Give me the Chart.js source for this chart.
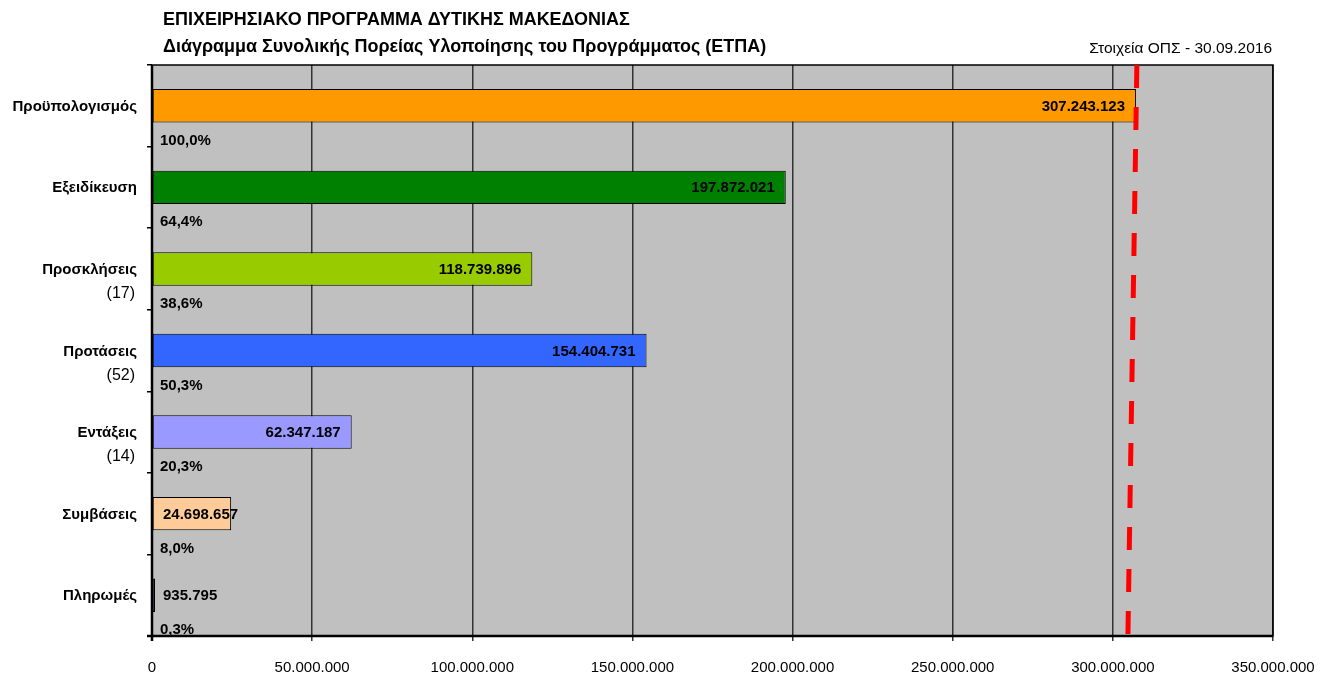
<!DOCTYPE html>
<html>
<head>
<meta charset="utf-8">
<script src="https://cdn.jsdelivr.net/npm/chart.js@4/dist/chart.umd.min.js"></script>
<style>
  html, body { margin: 0; padding: 0; background: #fff; }
  #wrap { position: relative; width: 1329px; height: 678px; }
</style>
</head>
<body>
<div id="wrap"><canvas id="chart" width="1329" height="678"></canvas></div>
<script>
const categories = ['Προϋπολογισμός', 'Εξειδίκευση', 'Προσκλήσεις', 'Προτάσεις', 'Εντάξεις', 'Συμβάσεις', 'Πληρωμές']
const counts = ['', '', '(17)', '(52)', '(14)', '', '']
const values = [307243123, 197872021, 118739896, 154404731, 62347187, 24698657, 935795]
const percents = ['100,0%', '64,4%', '38,6%', '50,3%', '20,3%', '8,0%', '0,3%']
const barColors = ['#FF9900', '#008000', '#99CC00', '#3366FF', '#9999FF', '#FFCC99', '#7070D8']
// red dashed reference line, value at top and at bottom of the plot
const budgetLine = [307500000, 304700000]
const xMax = 350000000
const xStep = 50000000

const titleLines = ['ΕΠΙΧΕΙΡΗΣΙΑΚΟ ΠΡΟΓΡΑΜΜΑ ΔΥΤΙΚΗΣ ΜΑΚΕΔΟΝΙΑΣ', 'Διάγραμμα Συνολικής Πορείας Υλοποίησης του Προγράμματος (ΕΤΠΑ)']
const sourceNote = 'Στοιχεία ΟΠΣ - 30.09.2016'

const FONT = '"Liberation Sans", Arial, sans-serif'

function fmt(n) {
    return String(Math.round(n)).replace(/\B(?=(\d{3})+(?!\d))/g, '.')
}

const decorations = {
    id: 'decorations',
    beforeDraw(chart) {
        const {ctx, chartArea: a} = chart
        ctx.save()
        ctx.fillStyle = '#C0C0C0'
        ctx.fillRect(a.left, a.top, a.right - a.left, a.bottom - a.top)
        ctx.restore()
    },
    afterDatasetsDraw(chart) {
        const {ctx, chartArea: a, scales} = chart
        const x = scales.x, y = scales.y
        ctx.save()
        // plot border
        ctx.strokeStyle = '#000'
        ctx.lineWidth = 1.5
        ctx.strokeRect(a.left, a.top, a.right - a.left, a.bottom - a.top)
        ctx.lineWidth = 2.5
        ctx.beginPath()
        ctx.moveTo(a.left, a.top); ctx.lineTo(a.left, a.bottom + 5)
        ctx.moveTo(a.left - 5, a.bottom); ctx.lineTo(a.right, a.bottom)
        ctx.stroke()

        // dashed line
        ctx.strokeStyle = '#FF0000'
        ctx.lineWidth = 5
        ctx.setLineDash([23, 19])
        ctx.beginPath()
        ctx.moveTo(x.getPixelForValue(budgetLine[0]), a.top)
        ctx.lineTo(x.getPixelForValue(budgetLine[1]), a.bottom)
        ctx.stroke()
        ctx.setLineDash([])

        // x tick labels
        ctx.fillStyle = '#000'
        ctx.textBaseline = 'middle'
        ctx.textAlign = 'center'
        ctx.font = '15px ' + FONT
        x.ticks.forEach(t => {
            ctx.fillText(fmt(t.value), x.getPixelForValue(t.value), a.bottom + 32)
        })

        // value + percent labels
        const meta = chart.getDatasetMeta(0)
        ctx.font = 'bold 15px ' + FONT
        meta.data.forEach((bar, i) => {
            const txt = fmt(values[i])
            const w = ctx.measureText(txt).width
            const base = x.getPixelForValue(0)
            const cy = y.getPixelForValue(i)
            if (bar.x - base > w + 24) {
                ctx.textAlign = 'right'
                ctx.fillText(txt, bar.x - 11, bar.y + 1)
            } else {
                ctx.textAlign = 'left'
                ctx.fillText(txt, base + 11, bar.y + 1)
            }
            ctx.textAlign = 'left'
            ctx.fillText(percents[i], base + 8, cy + 35)
        })

        // category labels
        categories.forEach((c, i) => {
            const cy = y.getPixelForValue(i)
            ctx.textAlign = 'right'
            ctx.font = 'bold 15px ' + FONT
            ctx.fillText(c, 137, cy + 1)
            if (counts[i]) {
                ctx.font = '16px ' + FONT
                ctx.fillText(counts[i], 135, cy + 25)
            }
        })

        // titles (narrow, tall lettering)
        ctx.textAlign = 'left'
        ctx.textBaseline = 'alphabetic'
        ctx.font = 'bold 19px ' + FONT
        ctx.save()
        ctx.translate(163, 0)
        ctx.scale(0.945, 1)
        ctx.fillText(titleLines[0], 0, 25)
        ctx.fillText(titleLines[1], 0, 52)
        ctx.restore()
        ctx.textAlign = 'right'
        ctx.font = '15.5px ' + FONT
        ctx.fillText(sourceNote, 1272, 53)
        ctx.restore()
    }
}

new Chart(document.getElementById('chart'), {
    type: 'bar',
    data: {
        labels: categories,
        datasets: [{
            data: values,
            backgroundColor: barColors,
            borderColor: '#000',
            borderWidth: 1,
            borderSkipped: false,
            categoryPercentage: 1,
            barPercentage: 0.41
        }]
    },
    options: {
        indexAxis: 'y',
        responsive: false,
        animation: false,
        layout: {padding: {left: 147, top: 65, right: 56, bottom: 37}},
        scales: {
            x: {
                min: 0,
                max: xMax,
                ticks: {stepSize: xStep, display: false},
                grid: {color: '#333', lineWidth: 1.5, tickLength: 5},
                border: {display: false}
            },
            y: {
                ticks: {display: false},
                grid: {offset: true, drawOnChartArea: false, color: '#000', tickLength: 5, lineWidth: 1.5},
                border: {display: false}
            }
        },
        plugins: {
            legend: {display: false},
            tooltip: {enabled: false}
        }
    },
    plugins: [decorations]
})
</script>
</body>
</html>
